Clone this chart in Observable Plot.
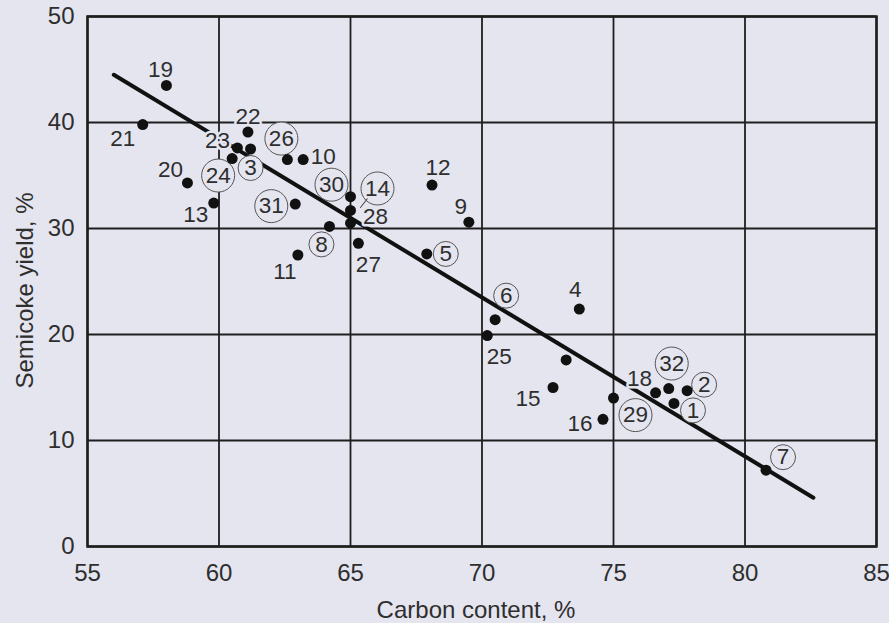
<!DOCTYPE html>
<html>
<head>
<meta charset="utf-8">
<script src="https://cdn.jsdelivr.net/npm/d3@7"></script>
<script src="https://cdn.jsdelivr.net/npm/@observablehq/plot@0.6"></script>
<style>
html, body { margin: 0; padding: 0; background: #e4e5ee; }
#chart svg { display: block; }
</style>
</head>
<body>
<div id="chart"></div>
<script>
// ---- data ----
const sampleIds      = [1, 2, 3, 4, 5, 6, 7, 8, 9, 10, 11, 12, 13, 14, 15, 16, 17, 18, 19, 20, 21, 22, 23, 24, 25, 26, 27, 28, 29, 30, 31, 32];
const carbonContent  = [77.3, 77.8, 61.2, 73.7, 67.9, 70.5, 80.8, 64.2, 69.5, 63.2, 63.0, 68.1, 59.8, 65.0, 72.7, 74.6, 73.2, 76.6, 58.0, 58.8, 57.1, 61.1, 60.7, 60.5, 70.2, 62.6, 65.3, 65.0, 75.0, 65.0, 62.9, 77.1];
const semicokeYield  = [13.5, 14.7, 37.5, 22.4, 27.6, 21.4, 7.2, 30.2, 30.6, 36.5, 27.5, 34.1, 32.4, 31.7, 15.0, 12.0, 17.6, 14.5, 43.5, 34.3, 39.8, 39.1, 37.6, 36.6, 19.9, 36.5, 28.6, 30.5, 14.0, 33.0, 32.3, 14.9];
const circledIds     = [1, 2, 3, 5, 6, 7, 8, 14, 24, 26, 29, 30, 31, 32];
const unlabeledIds   = [17];
const trendCarbon    = [56.0, 82.6];
const trendYield     = [44.5, 4.6];
const xTicks         = [55, 60, 65, 70, 75, 80, 85];
const yTicks         = [0, 10, 20, 30, 40, 50];
const xTitle         = "Carbon content, %";
const yTitle         = "Semicoke yield, %";

// ---- layout (label offsets from each dot, in pixels) ----
const labelOffsets = {
  1: [19, 7], 2: [17, -6], 3: [0, 19], 4: [-4, -19], 5: [19, 0], 6: [11, -24],
  7: [17, -13], 8: [-8, 18], 9: [-8, -15], 10: [20, -3], 11: [-13, 17], 12: [6, -17],
  13: [-18, 12], 14: [27, -22], 15: [-25, 11], 16: [-23, 4], 18: [-16, -14],
  19: [-6, -16], 20: [-17, -13], 21: [-20, 14], 22: [0, -15], 23: [-20, -7],
  24: [-14, 17], 25: [12, 21], 26: [-6, -21], 27: [10, 21], 28: [25, -6],
  29: [22, 17], 30: [-19, -12], 31: [-24, 2], 32: [3, -25]
};

const bg = "#e4e5ee";
const ink = "#1e1e1e";
const textInk = "#2e2e2e";

const rows = sampleIds.map((id, i) => ({id, carbon: carbonContent[i], yield: semicokeYield[i]}));
const labeled = rows.filter(r => !unlabeledIds.includes(r.id));
const trend = trendCarbon.map((c, i) => ({carbon: c, yield: trendYield[i]}));

const circleMarks = labeled.filter(r => circledIds.includes(r.id)).map(r =>
  Plot.dot([r], {
    x: "carbon", y: "yield",
    dx: labelOffsets[r.id][0], dy: labelOffsets[r.id][1],
    r: r.id >= 10 ? 16.5 : 12.5,
    fill: bg, stroke: "#555", strokeWidth: 1
  })
);

const textMarks = labeled.map(r =>
  Plot.text([r], {
    x: "carbon", y: "yield", text: d => String(d.id),
    dx: labelOffsets[r.id][0], dy: labelOffsets[r.id][1],
    fontSize: 22.5, fill: textInk,
    stroke: circledIds.includes(r.id) ? "none" : bg, strokeWidth: 5,
    textAnchor: "middle", lineAnchor: "middle"
  })
);

const leaderShape = {
  draw(context, l) { context.moveTo(0, 0); context.lineTo(0, -l); }
};

const chart = Plot.plot({
  width: 889,
  height: 623,
  marginLeft: 87,
  marginRight: 13,
  marginTop: 16,
  marginBottom: 77,
  style: {background: bg, fontFamily: "'Liberation Sans', Arial, sans-serif", fontSize: "24px", color: textInk},
  x: {domain: [55, 85], ticks: xTicks, tickSize: 0, tickPadding: 17, label: null},
  y: {domain: [0, 50], ticks: yTicks, tickSize: 0, tickPadding: 13, label: null},
  marks: [
    Plot.ruleX(xTicks, {stroke: ink, strokeWidth: 1.8}),
    Plot.ruleY(yTicks, {stroke: ink, strokeWidth: 1.8}),
    Plot.frame({stroke: ink, strokeWidth: 2.5}),
    Plot.line(trend, {x: "carbon", y: "yield", stroke: "#111", strokeWidth: 4, strokeLinecap: "round"}),
    ...circleMarks,
    ...textMarks,
    Plot.vector(rows.filter(r => r.id === 14), {
      x: "carbon", y: "yield", length: 11, rotate: 38, anchor: "start",
      dx: 10, dy: -3, shape: leaderShape, stroke: "#444", strokeWidth: 1
    }),
    Plot.dot(rows, {x: "carbon", y: "yield", r: 5.5, fill: "#111", stroke: "none"}),
    Plot.text([xTitle], {frameAnchor: "bottom", dx: -6, dy: 64, fontSize: 24, fill: textInk, textAnchor: "middle", lineAnchor: "middle"}),
    Plot.text([yTitle], {frameAnchor: "left", rotate: -90, dx: -62, dy: 9, fontSize: 24, fill: textInk, textAnchor: "middle", lineAnchor: "middle"})
  ]
});

document.getElementById("chart").appendChild(chart);
</script>
</body>
</html>
